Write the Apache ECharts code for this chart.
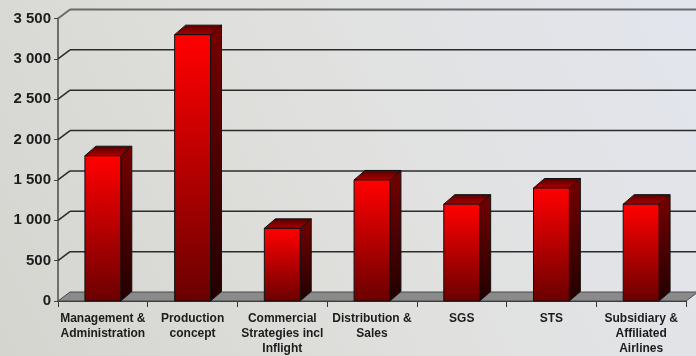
<!DOCTYPE html>
<html>
<head>
<meta charset="utf-8">
<script src="https://cdn.jsdelivr.net/npm/echarts@6/dist/echarts.min.js"></script>
<style>
  html, body { margin: 0; padding: 0; }
  #chart { width: 696px; height: 356px; }
</style>
</head>
<body>
<div id="chart"></div>
<script>
// Headcount by business area
const categories = [
  'Management &\nAdministration',
  'Production\nconcept',
  'Commercial\nStrategies incl\nInflight',
  'Distribution &\nSales',
  'SGS',
  'STS',
  'Subsidiary &\nAffiliated\nAirlines'
];
const values = [1800, 3300, 900, 1500, 1200, 1400, 1200];
const yTicks = [0, 500, 1000, 1500, 2000, 2500, 3000, 3500];

// depth offset of the 3D box (screen pixels)
const DX = 12, DY = -9;
const BAR_DX = 11, BAR_DY = -9.5;

const chart = echarts.init(document.getElementById('chart'));

function wallItem(params, api) {
  const v = api.value(1);
  const cs = params.coordSys;
  const y = api.coord([0, v])[1];
  const x0 = cs.x;
  const top = v === yTicks[yTicks.length - 1];
  const style = { stroke: top ? '#6b6b6b' : '#2b2b2b', lineWidth: top ? 2 : 1.5 };
  const children = [];
  if (v !== 0) {
    children.push({ type: 'line', shape: { x1: x0, y1: y, x2: x0 + DX, y2: y + DY }, style });
    children.push({ type: 'line', shape: { x1: x0 + DX, y1: y + DY, x2: cs.x + cs.width + DX + 2, y2: y + DY }, style });
  }
  return { type: 'group', children };
}

function floorItem(params, api) {
  const cs = params.coordSys;
  const y = api.coord([0, 0])[1];
  const x0 = cs.x, x1 = cs.x + cs.width;
  return {
    type: 'polygon',
    shape: { points: [[x0, y], [x1, y], [x1 + DX, y + DY], [x0 + DX, y + DY]] },
    style: { fill: '#8a8a8a', stroke: '#4a4a4a', lineWidth: 1 }
  };
}

function barItem(params, api) {
  const i = api.value(0);
  const v = api.value(1);
  const topPt = api.coord([i, v]);
  const basePt = api.coord([i, 0]);
  const w = api.size([1, 0])[0] * 0.4;
  const xl = topPt[0] - w / 2, xr = topPt[0] + w / 2;
  const yt = topPt[1], yb = basePt[1];
  const h = yb - yt;
  const edge = { stroke: '#111', lineWidth: 1 };
  return {
    type: 'group',
    children: [
      {
        type: 'polygon',
        shape: { points: [[xr, yt], [xr + BAR_DX, yt + BAR_DY], [xr + BAR_DX, yb + BAR_DY], [xr, yb]] },
        style: Object.assign({
          fill: new echarts.graphic.LinearGradient(0, 0, 0, 1, [
            { offset: 0, color: '#760000' }, { offset: 1, color: '#220000' }
          ])
        }, edge)
      },
      {
        type: 'polygon',
        shape: { points: [[xl, yt], [xr, yt], [xr + BAR_DX, yt + BAR_DY], [xl + BAR_DX, yt + BAR_DY]] },
        style: Object.assign({
          fill: new echarts.graphic.LinearGradient(0, 1, 0, 0, [
            { offset: 0, color: '#b00000' }, { offset: 1, color: '#520000' }
          ])
        }, edge)
      },
      {
        type: 'rect',
        shape: { x: xl, y: yt, width: w, height: h },
        style: Object.assign({
          fill: new echarts.graphic.LinearGradient(0, 0, 0, 1, [
            { offset: 0, color: '#ff0000' }, { offset: 0.12, color: '#f00000' }, { offset: 1, color: '#6a0000' }
          ])
        }, edge)
      }
    ]
  };
}

const option = {
  animation: false,
  backgroundColor: {
    type: 'linear', x: 0, y: 1, x2: 1, y2: 0,
    colorStops: [
      { offset: 0, color: '#d4d5cf' },
      { offset: 0.5, color: '#e0e1de' },
      { offset: 1, color: '#e3e5ee' }
    ]
  },
  grid: { left: 58, top: 18.5, width: 628, height: 283 },
  xAxis: {
    type: 'category',
    data: categories,
    axisLine: { show: true, lineStyle: { color: '#333', width: 1 } },
    axisTick: { show: true, length: 6, lineStyle: { color: '#333' } },
    axisLabel: {
      interval: 0, margin: 10,
      fontFamily: 'Liberation Sans, Arial, sans-serif',
      fontWeight: 'bold', fontSize: 12, lineHeight: 15, color: '#1c1c1c'
    }
  },
  yAxis: {
    type: 'value', min: 0, max: 3500, interval: 500,
    axisLine: { show: true, lineStyle: { color: '#6e6e6e', width: 2 } },
    axisTick: { show: true, length: 4, lineStyle: { color: '#444' } },
    splitLine: { show: false },
    axisLabel: {
      margin: 7,
      fontFamily: 'Liberation Sans, Arial, sans-serif',
      fontWeight: 'bold', fontSize: 15, color: '#1c1c1c',
      formatter: v => String(v).replace(/\B(?=(\d{3})+(?!\d))/g, ' ')
    }
  },
  series: [
    {
      type: 'custom', name: 'wall', renderItem: wallItem,
      data: yTicks.map(v => [0, v]), z: 1, silent: true
    },
    {
      type: 'custom', name: 'floor', renderItem: floorItem,
      data: [[0, 0]], z: 2, silent: true
    },
    {
      type: 'custom', name: 'Headcount', renderItem: barItem,
      data: values.map((v, i) => [i, v]), z: 3
    }
  ]
};
chart.setOption(option);
</script>
</body>
</html>
